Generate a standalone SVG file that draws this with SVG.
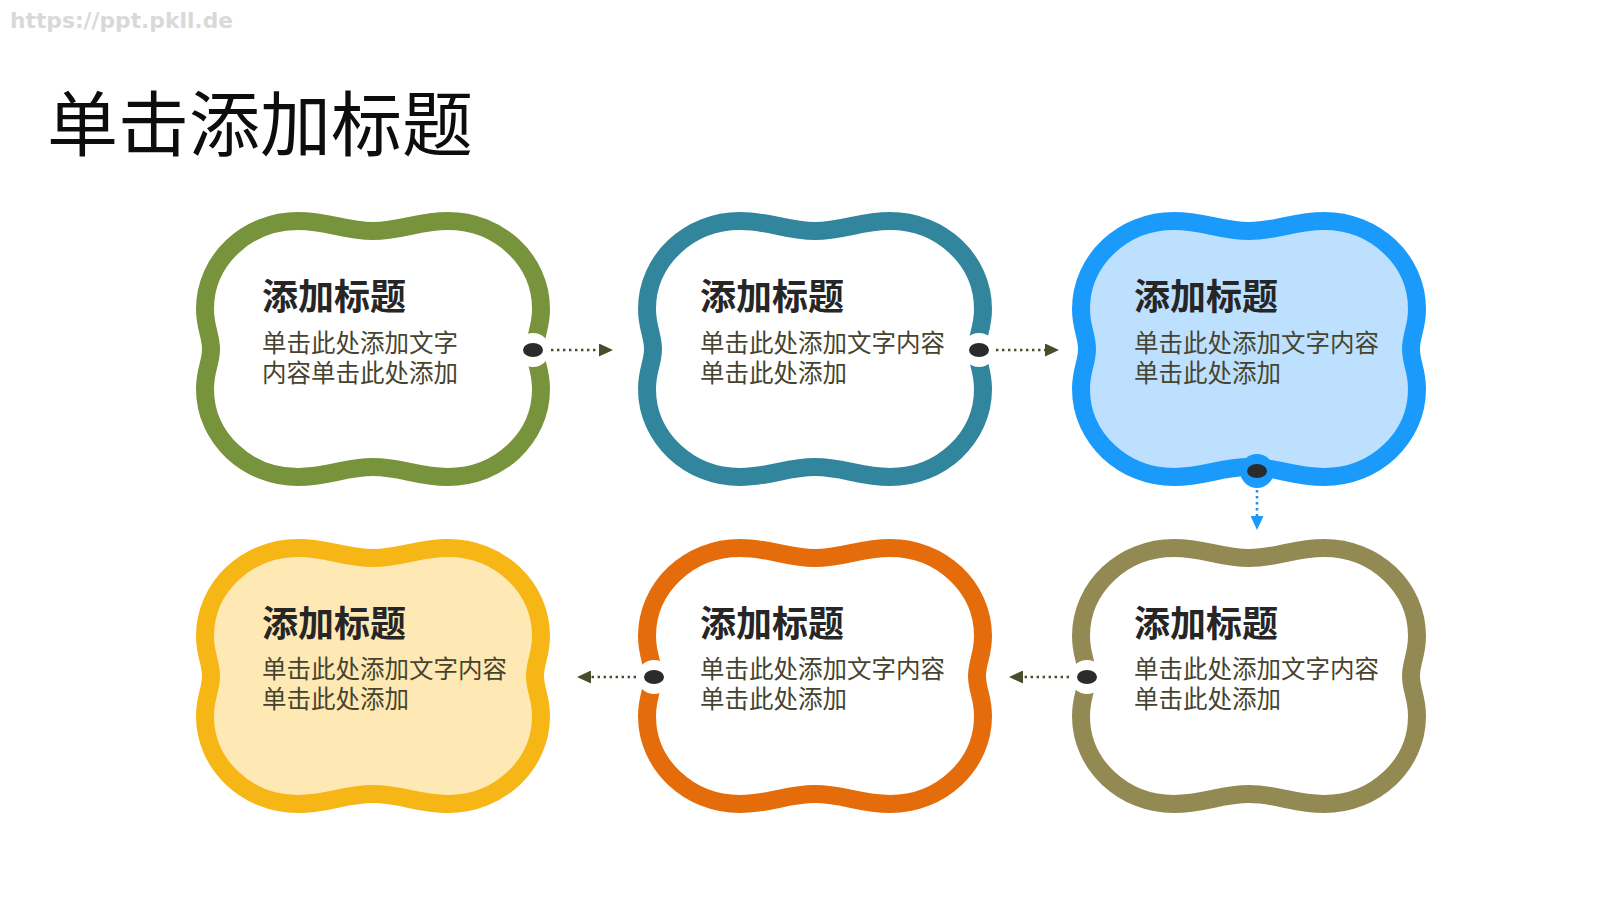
<svg xmlns="http://www.w3.org/2000/svg" width="1600" height="900" viewBox="0 0 1600 900">
<style>
.url{font-family:"DejaVu Sans","Liberation Sans",sans-serif;font-weight:bold;font-size:21px;fill:#d9d9d9}
.main{font-family:"Noto Sans CJK SC","Noto Sans",sans-serif;font-size:71px;fill:#0d0d0d}
.t{font-family:"Noto Sans CJK SC","Noto Sans",sans-serif;font-weight:bold;font-size:36px;fill:#262626}
.b{font-family:"Noto Sans CJK SC","Noto Sans",sans-serif;font-size:24.5px;fill:#46442f}
.cloud{stroke-width:18;stroke-linejoin:round}
.dash{fill:none;stroke:#4a4c2c;stroke-width:2.6;stroke-dasharray:2.4 3.6}
.dashb{fill:none;stroke:#2a8fe0;stroke-width:2.6;stroke-dasharray:2.4 3.6}
.dot{fill:#2b2b2b}
.halo{fill:#ffffff}
</style>
<defs>
<path id="cloudShape" d="M 0,-118 C 28,-118 45,-128 75,-128 C 126,-128 168,-89 168,-40 C 168,-21 162,-14 162,0 C 162,14 168,21 168,40 C 168,89 126,128 75,128 C 45,128 28,118 0,118 C -28,118 -45,128 -75,128 C -126,128 -168,89 -168,40 C -168,21 -162,14 -162,0 C -162,-14 -168,-21 -168,-40 C -168,-89 -126,-128 -75,-128 C -45,-128 -28,-118 0,-118 Z"/>
<marker id="arr" markerUnits="userSpaceOnUse" markerWidth="14" markerHeight="13" refX="0" refY="6.5" orient="auto">
<path d="M0,0 L14,6.5 L0,13 Z" fill="#4a4c2c"/>
</marker>
<marker id="arrb" markerUnits="userSpaceOnUse" markerWidth="14" markerHeight="13" refX="0" refY="6.5" orient="auto">
<path d="M0,0 L14,6.5 L0,13 Z" fill="#1a9bfc"/>
</marker>
</defs>
<rect width="1600" height="900" fill="#ffffff"/>
<text class="url" x="10" y="28" textLength="223" lengthAdjust="spacingAndGlyphs">https://ppt.pkll.de</text>
<text class="main" x="47" y="150">单击添加标题</text>

<g id="node1">
<use href="#cloudShape" x="373" y="349" class="cloud" fill="#ffffff" stroke="#77933c"/>
<text class="t" x="262" y="310">添加标题</text>
<text class="b" x="262" y="352">单击此处添加文字</text>
<text class="b" x="262" y="381.5">内容单击此处添加</text>
</g>
<g id="node2">
<use href="#cloudShape" x="815" y="349" class="cloud" fill="#ffffff" stroke="#31859c"/>
<text class="t" x="700" y="310">添加标题</text>
<text class="b" x="700" y="352">单击此处添加文字内容</text>
<text class="b" x="700" y="381.5">单击此处添加</text>
</g>
<g id="node3">
<use href="#cloudShape" x="1249" y="349" class="cloud" fill="#bde0fe" stroke="#1a9bfc"/>
<text class="t" x="1134" y="310">添加标题</text>
<text class="b" x="1134" y="352">单击此处添加文字内容</text>
<text class="b" x="1134" y="381.5">单击此处添加</text>
</g>
<g id="node4">
<use href="#cloudShape" x="1249" y="676" class="cloud" fill="#ffffff" stroke="#938953"/>
<text class="t" x="1134" y="637">添加标题</text>
<text class="b" x="1134" y="678">单击此处添加文字内容</text>
<text class="b" x="1134" y="707.5">单击此处添加</text>
</g>
<g id="node5">
<use href="#cloudShape" x="815" y="676" class="cloud" fill="#ffffff" stroke="#e46c0a"/>
<text class="t" x="700" y="637">添加标题</text>
<text class="b" x="700" y="678">单击此处添加文字内容</text>
<text class="b" x="700" y="707.5">单击此处添加</text>
</g>
<g id="node6">
<use href="#cloudShape" x="373" y="676" class="cloud" fill="#fee8b4" stroke="#f6b616"/>
<text class="t" x="262" y="637">添加标题</text>
<text class="b" x="262" y="678">单击此处添加文字内容</text>
<text class="b" x="262" y="707.5">单击此处添加</text>
</g>

<g id="connectors">
<circle class="halo" cx="533" cy="350" r="17"/>
<ellipse class="dot" cx="533" cy="350" rx="10" ry="7"/>
<line class="dash" x1="551" y1="350" x2="599" y2="350" marker-end="url(#arr)"/>

<circle class="halo" cx="979" cy="350" r="17"/>
<ellipse class="dot" cx="979" cy="350" rx="10" ry="7"/>
<line class="dash" x1="996" y1="350" x2="1045" y2="350" marker-end="url(#arr)"/>

<circle cx="1257" cy="471" r="17" fill="#1a9bfc"/>
<ellipse class="dot" cx="1257" cy="471" rx="10" ry="7"/>
<line class="dashb" x1="1257" y1="490" x2="1257" y2="516" marker-end="url(#arrb)"/>

<circle class="halo" cx="1087" cy="677" r="17"/>
<ellipse class="dot" cx="1087" cy="677" rx="10" ry="7"/>
<line class="dash" x1="1069" y1="677" x2="1023" y2="677" marker-end="url(#arr)"/>

<circle class="halo" cx="654" cy="677" r="17"/>
<ellipse class="dot" cx="654" cy="677" rx="10" ry="7"/>
<line class="dash" x1="636" y1="677" x2="591" y2="677" marker-end="url(#arr)"/>
</g>
</svg>
